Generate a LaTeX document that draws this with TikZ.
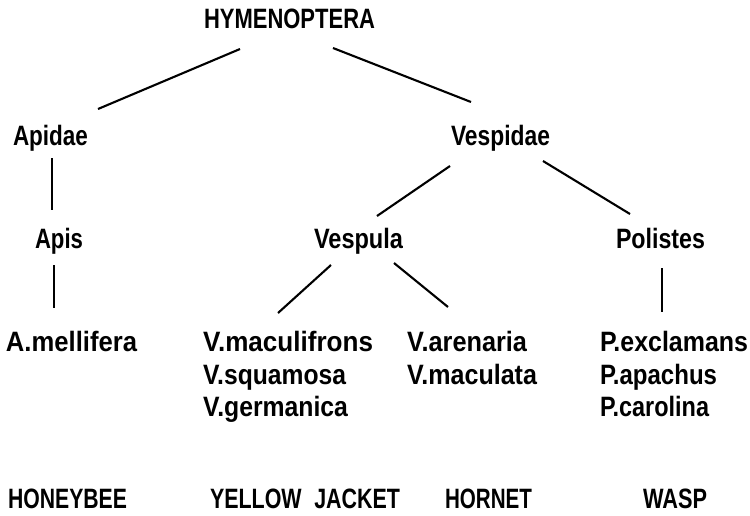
\documentclass[tikz,border=0pt]{standalone}
\usepackage{fontspec}
\setmainfont[FakeStretch=0.85]{Liberation Sans}
\usepackage{graphicx}
\newcommand{\fitw}[2]{\resizebox{#1pt}{\height}{#2}}
\begin{document}
\begin{tikzpicture}[x=1pt,y=-1pt,
  lbl/.style={inner sep=0pt, outer sep=0pt, anchor=base west, font=\fontsize{28}{34}\selectfont\bfseries},
  edge/.style={line width=2.1pt, black}]
\useasboundingbox (0,0) rectangle (750,515);
\fill[white] (0,0) rectangle (750,515);
% nodes
\node[lbl] (hym) at (204,28) {\fitw{171}{HYMENOPTERA}};
\node[lbl] (apidae) at (13,145) {\fitw{75}{Apidae}};
\node[lbl] (vespidae) at (451,145) {\fitw{99}{Vespidae}};
\node[lbl] (apis) at (35,248) {\fitw{48}{Apis}};
\node[lbl] (vespula) at (314,248) {\fitw{89}{Vespula}};
\node[lbl] (polistes) at (616,248) {\fitw{89}{Polistes}};
\node[lbl] (amel) at (6,351.5) {\fitw{131}{A.mellifera}};
\node[lbl] (vmacf) at (203,351.5) {\fitw{170}{V.maculifrons}};
\node[lbl] (vsqu) at (203,384) {\fitw{143}{V.squamosa}};
\node[lbl] (vger) at (203,416.5) {\fitw{145}{V.germanica}};
\node[lbl] (vare) at (407,351.5) {\fitw{120}{V.arenaria}};
\node[lbl] (vmacl) at (407,384) {\fitw{130}{V.maculata}};
\node[lbl] (pexc) at (600,351.5) {\fitw{148}{P.exclamans}};
\node[lbl] (papa) at (600,384) {\fitw{117}{P.apachus}};
\node[lbl] (pcar) at (600,416.5) {\fitw{109}{P.carolina}};
\node[lbl] (honey) at (8,508) {\fitw{119}{HONEYBEE}};
\node[lbl] (yellow) at (210,508) {\fitw{190}{YELLOW\hspace{0.5em}JACKET}};
\node[lbl] (hornet) at (445,508) {\fitw{87}{HORNET}};
\node[lbl] (wasp) at (643,508) {\fitw{64}{WASP}};
% connector ends
\coordinate (hymL) at (240,49);   \coordinate (apidaeT) at (98,109);
\coordinate (hymR) at (333,48);   \coordinate (vespidaeT) at (471,102);
\coordinate (apidaeB) at (52,158); \coordinate (apisT) at (52,210);
\coordinate (vespidaeL) at (450,166); \coordinate (vespulaT) at (377,216);
\coordinate (vespidaeR) at (543,161); \coordinate (polistesT) at (630,214);
\coordinate (apisB) at (54,265); \coordinate (amelT) at (54,308);
\coordinate (vespulaL) at (331,265); \coordinate (vmacfT) at (278,313);
\coordinate (vespulaR) at (394,263); \coordinate (vareT) at (448,307);
\coordinate (polistesB) at (662,268); \coordinate (pexcT) at (662,312);
% connectors
\draw[edge] (hymL) -- (apidaeT);
\draw[edge] (hymR) -- (vespidaeT);
\draw[edge] (apidaeB) -- (apisT);
\draw[edge] (vespidaeL) -- (vespulaT);
\draw[edge] (vespidaeR) -- (polistesT);
\draw[edge] (apisB) -- (amelT);
\draw[edge] (vespulaL) -- (vmacfT);
\draw[edge] (vespulaR) -- (vareT);
\draw[edge] (polistesB) -- (pexcT);
\end{tikzpicture}
\end{document}
